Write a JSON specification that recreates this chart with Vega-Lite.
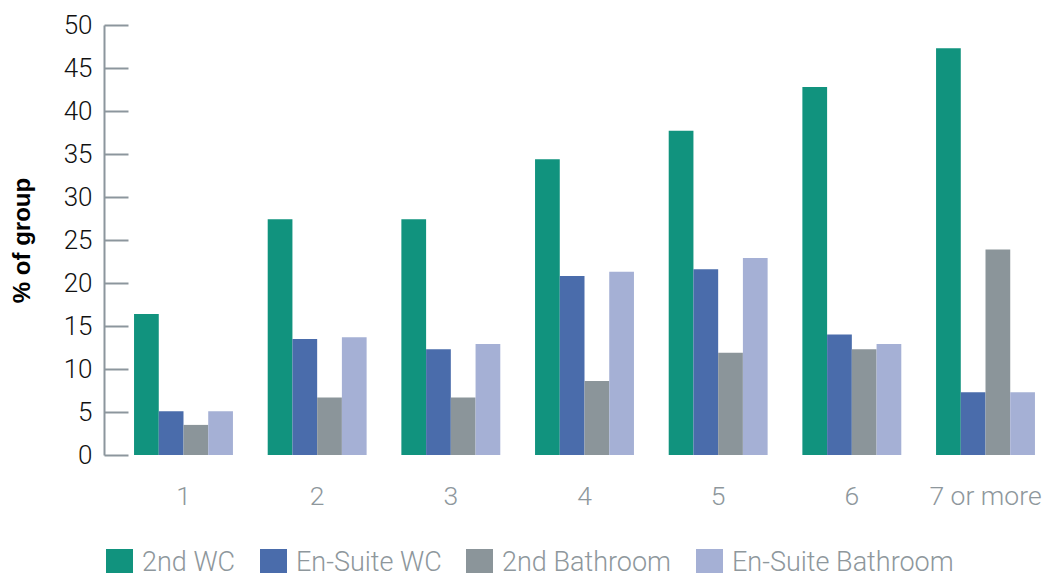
{
  "$schema": "https://vega.github.io/schema/vega-lite/v6.json",
  "autosize": {"type": "none"},
  "padding": {"left": 120, "top": 25, "right": 1, "bottom": 118},
  "width": 929,
  "height": 430,
  "background": "white",
  "config": {"view": {"stroke": null}},
  "data": {
    "values": [
      {"group": "1", "type": "2nd WC", "value": 16.4},
      {"group": "1", "type": "En-Suite WC", "value": 5.1},
      {"group": "1", "type": "2nd Bathroom", "value": 3.5},
      {"group": "1", "type": "En-Suite Bathroom", "value": 5.1},
      {"group": "2", "type": "2nd WC", "value": 27.4},
      {"group": "2", "type": "En-Suite WC", "value": 13.5},
      {"group": "2", "type": "2nd Bathroom", "value": 6.7},
      {"group": "2", "type": "En-Suite Bathroom", "value": 13.7},
      {"group": "3", "type": "2nd WC", "value": 27.4},
      {"group": "3", "type": "En-Suite WC", "value": 12.3},
      {"group": "3", "type": "2nd Bathroom", "value": 6.7},
      {"group": "3", "type": "En-Suite Bathroom", "value": 12.9},
      {"group": "4", "type": "2nd WC", "value": 34.4},
      {"group": "4", "type": "En-Suite WC", "value": 20.8},
      {"group": "4", "type": "2nd Bathroom", "value": 8.6},
      {"group": "4", "type": "En-Suite Bathroom", "value": 21.3},
      {"group": "5", "type": "2nd WC", "value": 37.7},
      {"group": "5", "type": "En-Suite WC", "value": 21.6},
      {"group": "5", "type": "2nd Bathroom", "value": 11.9},
      {"group": "5", "type": "En-Suite Bathroom", "value": 22.9},
      {"group": "6", "type": "2nd WC", "value": 42.8},
      {"group": "6", "type": "En-Suite WC", "value": 14.0},
      {"group": "6", "type": "2nd Bathroom", "value": 12.3},
      {"group": "6", "type": "En-Suite Bathroom", "value": 12.9},
      {"group": "7 or more", "type": "2nd WC", "value": 47.3},
      {"group": "7 or more", "type": "En-Suite WC", "value": 7.3},
      {"group": "7 or more", "type": "2nd Bathroom", "value": 23.9},
      {"group": "7 or more", "type": "En-Suite Bathroom", "value": 7.3}
    ]
  },
  "mark": {"type": "bar"},
  "encoding": {
    "x": {
      "field": "group",
      "type": "nominal",
      "sort": ["1", "2", "3", "4", "5", "6", "7 or more"],
      "scale": {"paddingInner": 0.26, "paddingOuter": 0.105},
      "axis": {
        "title": null,
        "domain": false,
        "ticks": false,
        "labelAngle": 0,
        "labelPadding": 28,
        "labelFont": "Roboto",
        "labelFontWeight": 300,
        "labelFontSize": 26.5,
        "labelColor": "#8e979c"
      }
    },
    "xOffset": {
      "field": "type",
      "type": "nominal",
      "sort": ["2nd WC", "En-Suite WC", "2nd Bathroom", "En-Suite Bathroom"],
      "scale": {"paddingInner": 0, "paddingOuter": 0}
    },
    "y": {
      "field": "value",
      "type": "quantitative",
      "scale": {"domain": [0, 50], "nice": false},
      "axis": {
        "title": "% of group",
        "titleFont": "Liberation Sans",
        "titleFontWeight": "bold",
        "titleFontSize": 24,
        "titleColor": "#000000",
        "titleX": -70,
        "titleY": 215,
        "values": [0, 5, 10, 15, 20, 25, 30, 35, 40, 45, 50],
        "grid": false,
        "offset": 16,
        "domainColor": "#8c969d",
        "domainWidth": 2,
        "tickColor": "#8c969d",
        "tickWidth": 2,
        "tickSize": -24,
        "labelPadding": 36,
        "labelFont": "Roboto",
        "labelFontWeight": 300,
        "labelFontSize": 26,
        "labelColor": "#111111"
      }
    },
    "color": {
      "field": "type",
      "type": "nominal",
      "scale": {
        "domain": ["2nd WC", "En-Suite WC", "2nd Bathroom", "En-Suite Bathroom"],
        "range": ["#11937e", "#4a6cab", "#8b959a", "#a5b0d5"]
      },
      "legend": {
        "title": null,
        "orient": "none",
        "direction": "horizontal",
        "legendX": -14,
        "legendY": 524,
        "symbolType": "square",
        "symbolSize": 729,
        "symbolStrokeWidth": 0,
        "labelFont": "Roboto",
        "labelFontWeight": 300,
        "labelFontSize": 27,
        "labelColor": "#8e979c",
        "labelOffset": 9,
        "columnPadding": 24,
        "labelLimit": 400
      }
    }
  }
}
